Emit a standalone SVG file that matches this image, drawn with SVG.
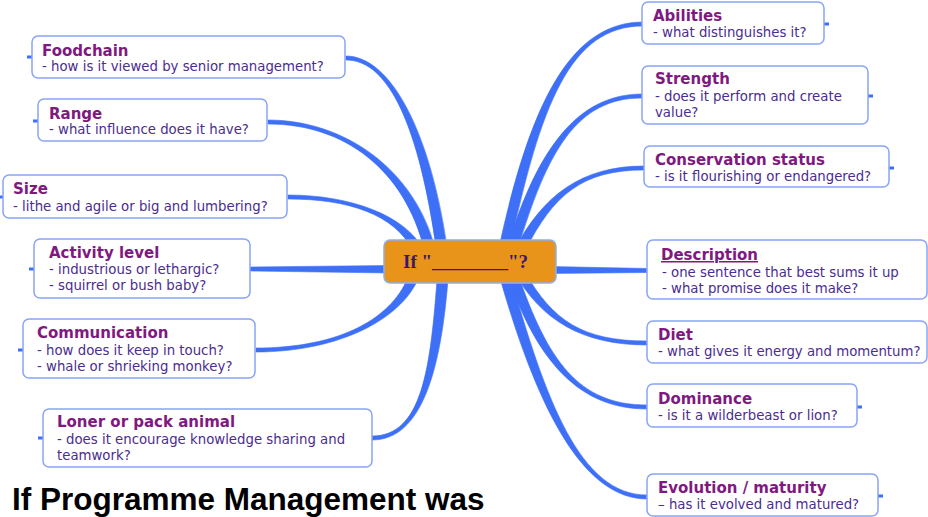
<svg xmlns="http://www.w3.org/2000/svg" width="928" height="517" viewBox="0 0 928 517">
  <style>
    .box { fill: #ffffff; stroke: #8aa4f6; stroke-width: 1.5; }
    .stub { stroke: #3d6ff7; stroke-width: 3; fill: none; }
    .link { fill: #3d6ff7; stroke: #3d6ff7; stroke-width: 0.6; stroke-linejoin: round; }
    .ttl { font-family: "DejaVu Sans", Verdana, sans-serif; font-size: 15px; font-weight: bold; fill: #80197f; }
    .sub { font-family: "DejaVu Sans", Verdana, sans-serif; font-size: 13.3px; fill: #4b2d8e; }
    .core { font-family: "Liberation Serif", "Times New Roman", serif; font-size: 19px; font-weight: bold; fill: #3d1478; }
    .caption { font-family: "Liberation Sans", Arial, sans-serif; font-size: 31.5px; font-weight: bold; fill: #000000; }
  </style>
  <rect width="928" height="517" fill="#ffffff"/>

  <!-- tapered branches from the central topic -->
  <g id="connectors">
    <path class="link" d="M509.5,250 C540.5,105 570,26 643,26 L643,22 C570,22 529.5,105 498.5,250 Z"/>
    <path class="link" d="M517.5,250 C547.5,150 577,98 642,98 L642,94 C577,94 536.5,150 506.5,250 Z"/>
    <path class="link" d="M525.5,250 C553.5,195 582,170 644,170 L644,166 C582,166 542.5,195 514.5,250 Z"/>
    <path class="link" d="M550,266.5 L648,268.5 L648,272.5 L550,273.5 Z"/>
    <path class="link" d="M514.5,273 C541.5,320 582,345 647,345 L647,341 C582,341 552.5,320 525.5,273 Z"/>
    <path class="link" d="M506.5,273 C536.5,360 578,409 647,409 L647,405 C578,405 547.5,360 517.5,273 Z"/>
    <path class="link" d="M498.5,273 C534.5,400 580,499 647,499 L647,495 C580,495 545.5,400 509.5,273 Z"/>
    <path class="link" d="M447.5,250 C430.5,130 390,56 346,56 L346,60 C390,60 419.5,130 436.5,250 Z"/>
    <path class="link" d="M435.5,250 C415.5,170 345,120 268,120 L268,124 C345,124 404.5,170 424.5,250 Z"/>
    <path class="link" d="M423.5,250 C405.5,215 350,195 288,195 L288,199 C350,199 394.5,215 412.5,250 Z"/>
    <path class="link" d="M250,267 L390,265.5 L390,273 L250,271 Z"/>
    <path class="link" d="M409.5,273 C394.5,318 340,348 256,348 L256,352 C340,352 405.5,318 420.5,273 Z"/>
    <path class="link" d="M437.5,273 C430.5,370 422,436 372,436 L372,440 C422,440 441.5,370 448.5,273 Z"/>
    <!-- collapse stubs on the outer sides -->
    <path class="stub" d="M27,57 H33 M33,121 H39 M0,197 H4 M29,269 H35 M18,350 H24 M38,438 H44"/>
    <path class="stub" d="M823,24 H829 M867,96 H873 M888,168 H894 M856,407 H862 M877,496 H883"/>
  </g>

  <g id="center">
    <rect x="384" y="240" width="172" height="43" rx="6" fill="#e8931a" stroke="#8fb0e8" stroke-width="1.5"/>
    <text class="core" x="403" y="268">If "________"?</text>
  </g>

  <g id="foodchain">
    <rect class="box" x="32" y="36" width="313" height="42" rx="6"/>
    <text class="ttl" x="42" y="56">Foodchain</text>
    <text class="sub" x="42" y="71">- how is it viewed by senior management?</text>
  </g>
  <g id="range">
    <rect class="box" x="38" y="99" width="229" height="42" rx="6"/>
    <text class="ttl" x="49" y="119">Range</text>
    <text class="sub" x="49" y="134">- what influence does it have?</text>
  </g>
  <g id="size">
    <rect class="box" x="3" y="175" width="284" height="43" rx="6"/>
    <text class="ttl" x="13" y="194">Size</text>
    <text class="sub" x="13" y="210.5">- lithe and agile or big and lumbering?</text>
  </g>
  <g id="activity-level">
    <rect class="box" x="34" y="239" width="216" height="59" rx="6"/>
    <text class="ttl" x="49" y="258">Activity level</text>
    <text class="sub" x="49" y="273.5">- industrious or lethargic?</text>
    <text class="sub" x="49" y="289.5">- squirrel or bush baby?</text>
  </g>
  <g id="communication">
    <rect class="box" x="23" y="319" width="232" height="59" rx="6"/>
    <text class="ttl" x="37" y="338">Communication</text>
    <text class="sub" x="37" y="355">- how does it keep in touch?</text>
    <text class="sub" x="37" y="371">- whale or shrieking monkey?</text>
  </g>
  <g id="loner-or-pack-animal">
    <rect class="box" x="43" y="409" width="329" height="58" rx="6"/>
    <text class="ttl" x="57" y="427">Loner or pack animal</text>
    <text class="sub" x="57" y="443.5">- does it encourage knowledge sharing and</text>
    <text class="sub" x="57" y="459.5">teamwork?</text>
  </g>

  <g id="abilities">
    <rect class="box" x="642" y="2" width="182" height="42" rx="6"/>
    <text class="ttl" x="653" y="21">Abilities</text>
    <text class="sub" x="653" y="37">- what distinguishes it?</text>
  </g>
  <g id="strength">
    <rect class="box" x="642" y="66" width="226" height="58" rx="6"/>
    <text class="ttl" x="655" y="84">Strength</text>
    <text class="sub" x="655" y="101">- does it perform and create</text>
    <text class="sub" x="655" y="117">value?</text>
  </g>
  <g id="conservation-status">
    <rect class="box" x="644" y="146" width="245" height="41" rx="6"/>
    <text class="ttl" x="655" y="165">Conservation status</text>
    <text class="sub" x="655" y="180.5">- is it flourishing or endangered?</text>
  </g>
  <g id="description">
    <rect class="box" x="647" y="240" width="280" height="59" rx="6"/>
    <text class="ttl" x="661" y="260" text-decoration="underline">Description</text>
    <text class="sub" x="662" y="277">- one sentence that best sums it up</text>
    <text class="sub" x="662" y="292.5">- what promise does it make?</text>
  </g>
  <g id="diet">
    <rect class="box" x="647" y="321" width="280" height="42" rx="6"/>
    <text class="ttl" x="658" y="339.5">Diet</text>
    <text class="sub" x="658" y="356">- what gives it energy and momentum?</text>
  </g>
  <g id="dominance">
    <rect class="box" x="647" y="384" width="210" height="43" rx="6"/>
    <text class="ttl" x="658" y="404">Dominance</text>
    <text class="sub" x="658" y="420">- is it a wilderbeast or lion?</text>
  </g>
  <g id="evolution-maturity">
    <rect class="box" x="647" y="474" width="231" height="42" rx="6"/>
    <text class="ttl" x="658" y="493">Evolution / maturity</text>
    <text class="sub" x="658" y="508.5">– has it evolved and matured?</text>
  </g>

  <text class="caption" x="12" y="510">If Programme Management was</text>
</svg>
